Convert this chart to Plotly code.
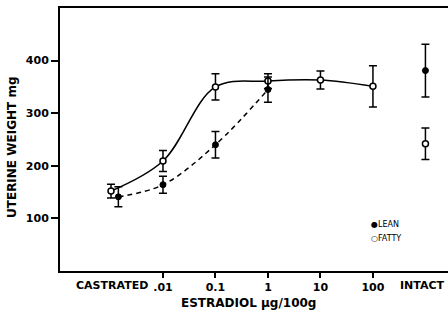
import plotly.graph_objects as go

# ---- data (x in log10 of estradiol dose; castrated/intact placed at ends) ----
dose_pos = [-2, -1, 0, 1, 2]
dose_labels = [".01", "0.1", "1", "10", "100"]
castrated_pos_fatty = -2.99
castrated_pos_lean = -2.85
intact_pos = 3

fatty_dose_pos = [castrated_pos_fatty, -2, -1, 0, 1, 2]
fatty_dose_vals = [152, 209, 350, 361, 363, 351]
fatty_dose_err = [13, 20, 25, 14, 17, 39]
fatty_intact_val = 242
fatty_intact_err = 30

lean_dose_pos = [castrated_pos_lean, -2, -1, 0]
lean_dose_vals = [141, 164, 240, 345]
lean_dose_err = [19, 16, 25, 24]
lean_intact_val = 381
lean_intact_err = 50

FONT = "DejaVu Sans"
fig = go.Figure()

# lines
fig.add_trace(go.Scatter(x=fatty_dose_pos, y=fatty_dose_vals, mode="lines",
                         line=dict(color="black", width=1.5, shape="spline", smoothing=1.0),
                         showlegend=False, hoverinfo="skip"))
fig.add_trace(go.Scatter(x=lean_dose_pos, y=lean_dose_vals, mode="lines",
                         line=dict(color="black", width=1.5, shape="spline", smoothing=1.0,
                                   dash="5px,4px"),
                         showlegend=False, hoverinfo="skip"))

# markers with error bars
eb = dict(type="data", thickness=1.5, width=4, color="black")
fig.add_trace(go.Scatter(x=fatty_dose_pos + [intact_pos], y=fatty_dose_vals + [fatty_intact_val],
                         mode="markers",
                         error_y=dict(array=fatty_dose_err + [fatty_intact_err], **eb),
                         marker=dict(symbol="circle", size=6, color="white",
                                     line=dict(color="black", width=1.5)),
                         name="FATTY", showlegend=False))
fig.add_trace(go.Scatter(x=lean_dose_pos + [intact_pos], y=lean_dose_vals + [lean_intact_val],
                         mode="markers",
                         error_y=dict(array=lean_dose_err + [lean_intact_err], **eb),
                         marker=dict(symbol="circle", size=6, color="black",
                                     line=dict(color="black", width=1)),
                         name="LEAN", showlegend=False))

tickfont = dict(family=FONT, size=11, color="black", weight="bold")
titlefont = dict(family=FONT, size=12, color="black", weight="bold")
fig.update_layout(
    width=448, height=312,
    margin=dict(l=60, r=0, t=8, b=41, autoexpand=False),
    plot_bgcolor="white", paper_bgcolor="white",
    xaxis=dict(range=[-3.962, 3.43], tickvals=dose_pos, ticktext=dose_labels,
               ticks="outside", ticklen=5, tickwidth=1.5, tickcolor="black",
               showline=True, linecolor="black", linewidth=2, mirror=True,
               showgrid=False, zeroline=False, tickfont=tickfont, automargin=False),
    yaxis=dict(range=[0, 500], tickvals=[100, 200, 300, 400],
               ticks="outside", ticklen=7, tickwidth=1.5, tickcolor="black",
               showline=True, linecolor="black", linewidth=2, mirror=False,
               showgrid=False, zeroline=False, tickfont=tickfont, automargin=False),
)

# axis titles
fig.add_annotation(x=(248 - 60) / 388, y=-(303 - 271) / 263, xref="paper", yref="paper",
                   text="ESTRADIOL μg/100g", showarrow=False, font=titlefont,
                   xanchor="center", yanchor="middle")
fig.add_annotation(x=-(60 - 12) / 388, y=(271 - 147) / 263, xref="paper", yref="paper",
                   text="UTERINE WEIGHT mg", showarrow=False, font=titlefont,
                   textangle=-90, xanchor="center", yanchor="middle")

# end-category labels (no tick marks in the original)
fig.add_annotation(x=-2.97, y=0, xref="x", yref="paper", text="CASTRATED", showarrow=False,
                   yanchor="top", yshift=-6, font=tickfont)
fig.add_annotation(x=1, y=0, xref="paper", yref="paper", text="INTACT", showarrow=False,
                   xanchor="right", yanchor="top", yshift=-6, xshift=-1, font=tickfont)

# legend text
fig.add_annotation(x=1.93, y=88, xref="x", yref="y", text="●LEAN", showarrow=False,
                   xanchor="left", font=dict(family=FONT, size=8, color="black"))
fig.add_annotation(x=1.93, y=61, xref="x", yref="y", text="○FATTY", showarrow=False,
                   xanchor="left", font=dict(family=FONT, size=8, color="black"))

fig.write_html("out.html", config={"displayModeBar": False},
               post_script="document.body.style.margin='0';document.body.style.overflow='hidden';")
